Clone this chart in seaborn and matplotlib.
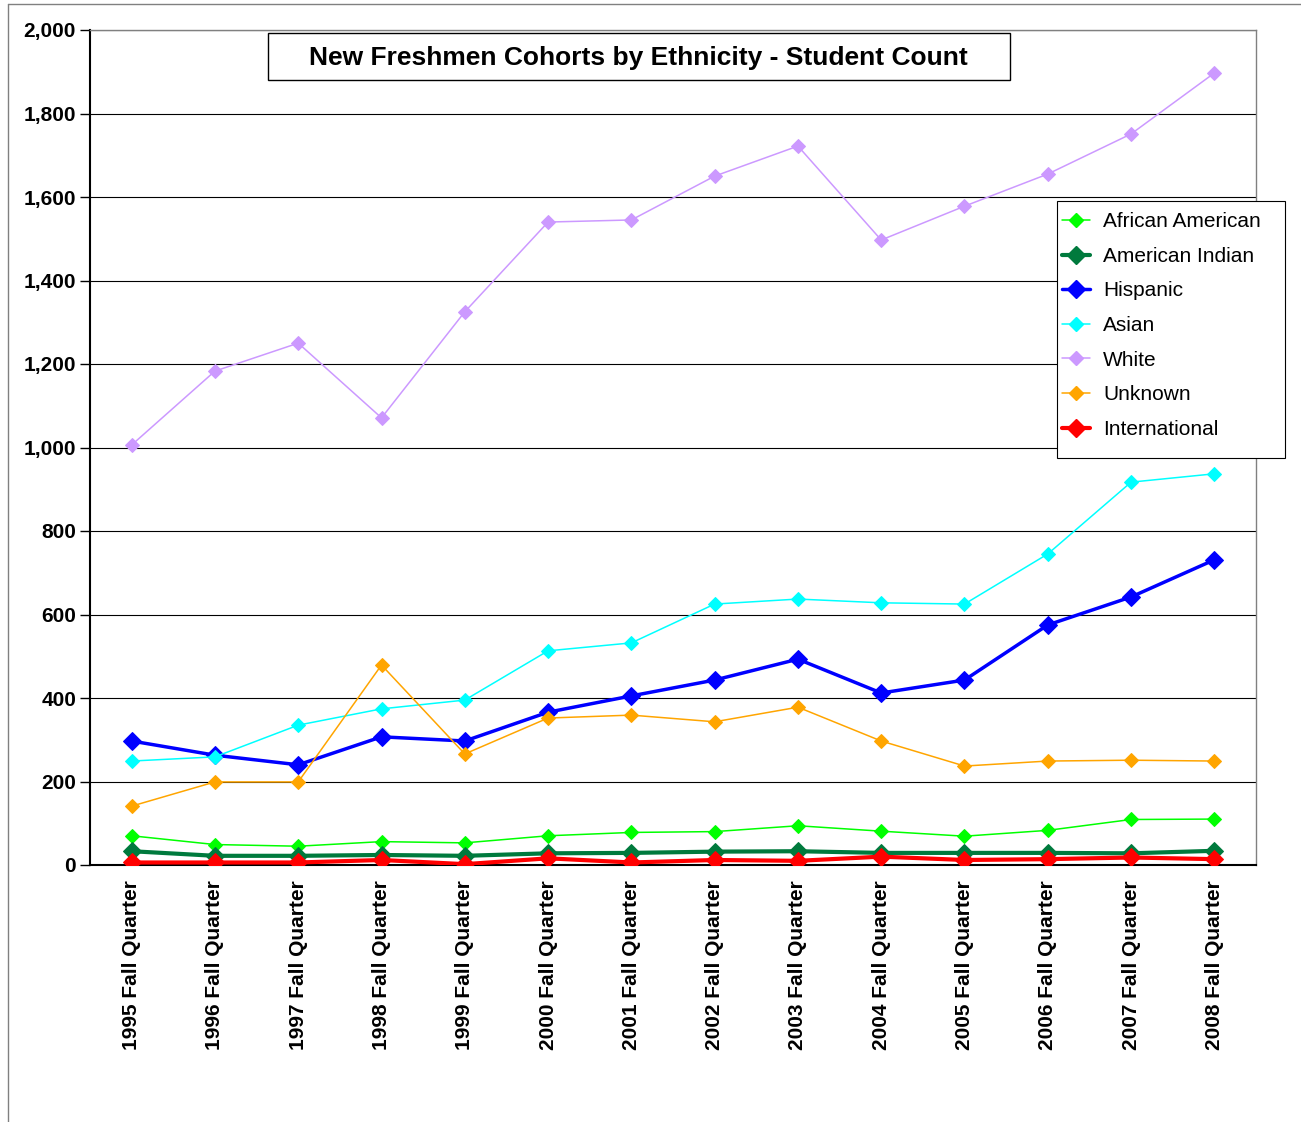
import matplotlib
matplotlib.use("Agg")
import matplotlib.pyplot as plt
import numpy as np
import pandas as pd
import seaborn as sns
from matplotlib.lines import Line2D
from matplotlib.patches import Rectangle
from matplotlib.ticker import FuncFormatter, MultipleLocator

years = list(range(1995, 2009))
quarters = [f"{y} Fall Quarter" for y in years]

african_american = [70, 49, 45, 56, 53, 70, 78, 80, 94, 81, 69, 83, 109, 110]
american_indian = [33, 22, 22, 24, 22, 28, 29, 32, 33, 29, 29, 29, 28, 34]
hispanic = [297, 263, 240, 307, 297, 366, 405, 443, 493, 412, 443, 575, 642, 731]
asian = [249, 259, 335, 374, 395, 513, 532, 625, 637, 628, 625, 745, 917, 937]
white = [1006, 1183, 1250, 1071, 1325, 1540, 1545, 1650, 1722, 1497, 1578, 1655, 1751, 1897]
unknown = [141, 199, 199, 479, 266, 352, 359, 343, 378, 297, 237, 249, 251, 249]
international = [6, 6, 6, 12, 2, 16, 6, 12, 10, 20, 12, 14, 18, 14]

series = {
    "African American": african_american,
    "American Indian": american_indian,
    "Hispanic": hispanic,
    "Asian": asian,
    "White": white,
    "Unknown": unknown,
    "International": international,
}

# colour, line width, marker size
styles = {
    "African American": ("#00FF00", 1.1, 7.5),
    "American Indian": ("#007A3D", 3.0, 9.5),
    "Hispanic": ("#0000FF", 2.5, 9.5),
    "Asian": ("#00FFFF", 1.1, 7.5),
    "White": ("#CC99FF", 1.1, 7.5),
    "Unknown": ("#FFA500", 1.1, 7.5),
    "International": ("#FF0000", 3.0, 9.5),
}

sns.set_style("white")
plt.rcParams["font.family"] = ["Liberation Sans", "DejaVu Sans"]
plt.rcParams["text.color"] = "black"
plt.rcParams["xtick.color"] = "black"
plt.rcParams["ytick.color"] = "black"

W, H = 1301, 1122
fig = plt.figure(figsize=(W / 100, H / 100), dpi=100)
ax = fig.add_axes([90 / W, 1 - 865 / H, (1256 - 90) / W, (865 - 30) / H])

x = np.arange(len(quarters))
for name, vals in series.items():
    color, lw, ms = styles[name]
    df = pd.DataFrame({"x": x, "y": vals})
    sns.lineplot(data=df, x="x", y="y", ax=ax, color=color, linewidth=lw,
                 marker="D", markersize=ms, markeredgecolor=color, zorder=3)

ax.set_xlim(-0.5, len(quarters) - 0.5)
ax.set_ylim(0, 2000)
ax.yaxis.set_major_locator(MultipleLocator(200))
ax.yaxis.set_major_formatter(FuncFormatter(lambda v, p: f"{int(v):,}"))
ax.set_xticks(x)
ax.set_xticklabels(quarters, rotation=90, fontsize=15, fontweight="bold", color="black")
for lab in ax.get_yticklabels():
    lab.set_fontsize(15)
    lab.set_fontweight("bold")
    lab.set_color("black")
ax.tick_params(axis="y", length=7, width=1, color="black", pad=3, left=True)
ax.tick_params(axis="x", length=0, pad=11)
ax.set_xlabel("")
ax.set_ylabel("")
ax.grid(axis="y", color="black", linewidth=0.8)
ax.set_axisbelow(True)
for side in ["left", "bottom"]:
    ax.spines[side].set_color("black")
    ax.spines[side].set_linewidth(1.5)
for side in ["top", "right"]:
    ax.spines[side].set_color("#808080")
    ax.spines[side].set_linewidth(1)

# title in a box
fig.add_artist(Rectangle((268 / W, 1 - 80 / H), (1010 - 268) / W, 47 / H,
                         transform=fig.transFigure, facecolor="white",
                         edgecolor="black", linewidth=1, zorder=5))
fig.text(638.5 / W, 1 - 58 / H,
         "New Freshmen Cohorts by Ethnicity - Student Count",
         ha="center", va="center", fontsize=19, fontweight="bold", zorder=6)

# legend box, drawn separately so its size matches the reference
fig.add_artist(Rectangle((1057 / W, 1 - 458 / H), (1285 - 1057) / W, (458 - 201) / H,
                         transform=fig.transFigure, facecolor="white",
                         edgecolor="black", linewidth=0.8, zorder=5))
handles = []
for name in series:
    color, lw, ms = styles[name]
    handles.append(Line2D([], [], color=color, linewidth=lw, marker="D",
                          markersize=ms, markeredgecolor=color))
leg = fig.legend(handles, list(series), loc="upper left",
                 bbox_to_anchor=(1057 / W, 1 - 207 / H),
                 fontsize=15, frameon=False, handlelength=1.35,
                 labelspacing=0.75, borderpad=0.25, borderaxespad=0,
                 handletextpad=0.62)
leg.set_zorder(6)

# outer chart frame
fig.add_artist(Line2D([8 / W, 8 / W], [0, 1 - 4 / H], color="#808080",
                      linewidth=1, transform=fig.transFigure))
fig.add_artist(Line2D([8 / W, 1], [1 - 4 / H, 1 - 4 / H], color="#808080",
                      linewidth=1, transform=fig.transFigure))

fig.savefig("out.png", dpi=100)
plt.close(fig)
